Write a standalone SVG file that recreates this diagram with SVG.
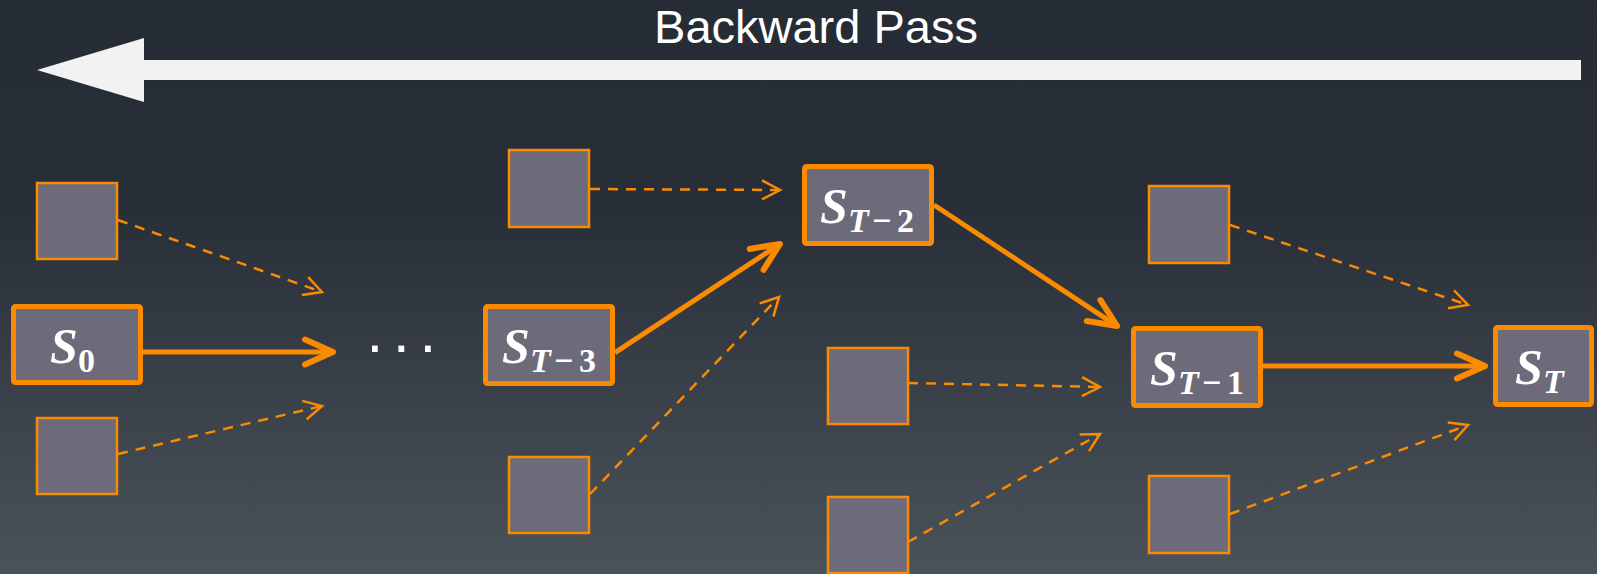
<svg xmlns="http://www.w3.org/2000/svg" width="1597" height="574" viewBox="0 0 1597 574">
  <defs>
    <linearGradient id="bg" x1="0" y1="0" x2="0" y2="1">
      <stop offset="0" stop-color="#262c35"/>
      <stop offset="0.35" stop-color="#282e37"/>
      <stop offset="1" stop-color="#4a525a"/>
    </linearGradient>
    <marker id="headSolid" markerUnits="userSpaceOnUse" orient="auto" markerWidth="40" markerHeight="40" refX="0" refY="0" overflow="visible">
      <path d="M-25,-12.5 L3,0 L-25,12.5" fill="none" stroke="#fa8a00" stroke-width="6" stroke-linecap="round" stroke-linejoin="round"/>
    </marker>
    <marker id="headDash" markerUnits="userSpaceOnUse" orient="auto" markerWidth="30" markerHeight="30" refX="0" refY="0" overflow="visible">
      <path d="M-18,-9.5 L0,0 L-18,9.5" fill="none" stroke="#fa8a00" stroke-width="2.5"/>
    </marker>
  </defs>
  <style>
    .small { fill: #6d6a7a; stroke: #fa8a00; stroke-width: 2.5; }
    .state { fill: #6d6a7a; stroke: #fa8a00; stroke-width: 5; }
    .solid { stroke: #fa8a00; stroke-width: 5; fill: none; marker-end: url(#headSolid); }
    .dash { stroke: #fa8a00; stroke-width: 2.5; fill: none; stroke-dasharray: 10 8; marker-end: url(#headDash); }
    .lbl { font-family: "Liberation Serif", "Times New Roman", serif; fill: #ffffff; font-weight: bold; }
    .big { font-size: 50px; font-style: italic; }
    .sub { font-size: 34px; }
    .it { font-style: italic; }
  </style>

  <rect x="0" y="0" width="1597" height="574" fill="url(#bg)"/>

  <!-- direction banner -->
  <g id="backward-pass">
    <polygon points="37,70 144,38 144,60 1581,60 1581,80 144,80 144,102" fill="#f2f2f2"/>
    <text x="816" y="43" font-family="Liberation Sans, Arial, sans-serif" font-size="47" fill="#ffffff" text-anchor="middle">Backward Pass</text>
  </g>

  <!-- connectors -->
  <g id="connectors">
    <line class="solid" x1="143" y1="352" x2="330" y2="352"/>
    <line class="solid" x1="615" y1="352.7" x2="777.5" y2="245.6"/>
    <line class="solid" x1="934" y1="205" x2="1114.5" y2="324.3"/>
    <line class="solid" x1="1263" y1="366" x2="1482" y2="366"/>

    <line class="dash" x1="118" y1="220" x2="322" y2="292"/>
    <line class="dash" x1="118" y1="454" x2="322" y2="406"/>
    <line class="dash" x1="590" y1="189" x2="780" y2="190"/>
    <line class="dash" x1="590" y1="494" x2="779" y2="297"/>
    <line class="dash" x1="908" y1="383" x2="1100" y2="387"/>
    <line class="dash" x1="908" y1="542" x2="1100" y2="434"/>
    <line class="dash" x1="1230" y1="225" x2="1468" y2="305"/>
    <line class="dash" x1="1230" y1="514" x2="1468" y2="425"/>
  </g>

  <!-- side inputs -->
  <g id="in-a1"><rect class="small" x="37" y="183" width="80" height="76"/></g>
  <g id="in-a2"><rect class="small" x="37" y="418" width="80" height="76"/></g>
  <g id="in-b1"><rect class="small" x="509" y="150" width="80" height="77"/></g>
  <g id="in-b2"><rect class="small" x="509" y="457" width="80" height="76"/></g>
  <g id="in-c1"><rect class="small" x="828" y="348" width="80" height="76"/></g>
  <g id="in-c2"><rect class="small" x="828" y="497" width="80" height="76"/></g>
  <g id="in-d1"><rect class="small" x="1149" y="186" width="80" height="77"/></g>
  <g id="in-d2"><rect class="small" x="1149" y="476" width="80" height="77"/></g>

  <!-- ellipsis between S0 and S_{T-3} -->
  <g id="ellipsis">
    <text x="366.6" y="352" font-family="Liberation Sans, Arial, sans-serif" font-size="60" letter-spacing="9.8" fill="#ffffff">...</text>
  </g>

  <!-- states -->
  <g id="s0">
    <rect class="state" x="13.5" y="306.5" width="127" height="76" rx="2"/>
    <text class="lbl"><tspan class="big" x="50" y="363">S</tspan><tspan class="sub" x="78" y="372">0</tspan></text>
  </g>
  <g id="s-t3">
    <rect class="state" x="485.5" y="306.5" width="127" height="77" rx="2"/>
    <text class="lbl"><tspan class="big" x="502" y="363">S</tspan><tspan class="sub it" x="530" y="372">T</tspan><tspan class="sub" x="554" y="372">−</tspan><tspan class="sub" x="579" y="372">3</tspan></text>
  </g>
  <g id="s-t2">
    <rect class="state" x="804.5" y="166.5" width="127" height="77" rx="2"/>
    <text class="lbl"><tspan class="big" x="820" y="223">S</tspan><tspan class="sub it" x="848" y="232">T</tspan><tspan class="sub" x="872" y="232">−</tspan><tspan class="sub" x="897" y="232">2</tspan></text>
  </g>
  <g id="s-t1">
    <rect class="state" x="1133.5" y="328.5" width="127" height="77" rx="2"/>
    <text class="lbl"><tspan class="big" x="1150" y="385">S</tspan><tspan class="sub it" x="1178" y="394">T</tspan><tspan class="sub" x="1202" y="394">−</tspan><tspan class="sub" x="1227" y="394">1</tspan></text>
  </g>
  <g id="s-t">
    <rect class="state" x="1495.5" y="327.5" width="96" height="77" rx="2"/>
    <text class="lbl"><tspan class="big" x="1515" y="384">S</tspan><tspan class="sub it" x="1543" y="393">T</tspan></text>
  </g>
</svg>
